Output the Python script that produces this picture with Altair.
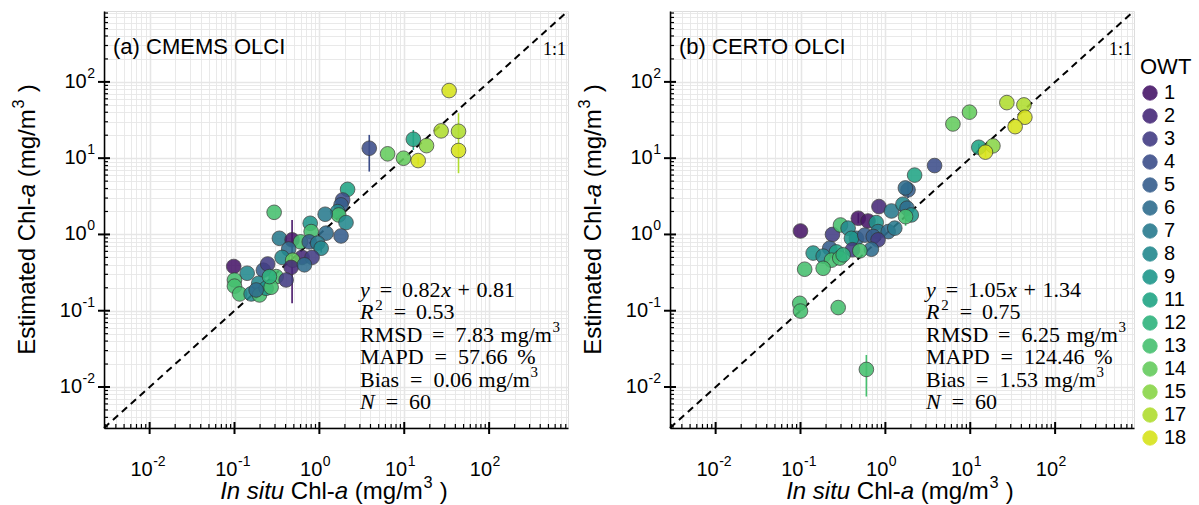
import altair as alt
import pandas as pd

SANS = "Liberation Sans"
SERIF = "Liberation Serif"

OWT_LEVELS = [1, 2, 3, 4, 5, 6, 7, 8, 9, 11, 12, 13, 14, 15, 17, 18]
AXIS_MIN, AXIS_MAX = 0.0029, 850.0
MAJOR_TICKS = [0.01, 0.1, 1, 10, 100]
MAJOR_EXP = ["-2", "-1", "0", "1", "2"]

# ---------------- panel (a) CMEMS OLCI ----------------
a_insitu = [2.15, 1.88, 1.80, 1.64, 1.69, 2.06, 1.17, 0.78, 0.80, 1.20,
            1.80, 0.293, 0.338, 0.477, 0.60, 0.76, 0.955, 1.05, 0.435, 0.364,
            0.625, 0.82, 0.485, 0.465, 0.667, 0.098, 0.141, 0.219, 0.246, 0.31,
            0.406, 0.10, 0.10, 0.115, 0.157, 0.193, 0.197, 0.236, 0.27, 0.18,
            0.258, 3.87, 6.37, 9.8, 12.8, 18.3, 14.6, 27.2, 33.8, 43.6, 43.6]
a_est = [3.9, 2.83, 2.44, 1.99, 1.80, 1.43, 1.84, 1.40, 1.09, 1.04,
         0.955, 1.95, 0.89, 0.85, 0.80, 0.80, 0.77, 0.66, 0.645, 0.50,
         0.50, 0.50, 0.46, 0.37, 0.40, 0.38, 0.31, 0.34, 0.41, 0.28,
         0.253, 0.253, 0.21, 0.166, 0.166, 0.229, 0.161, 0.197, 0.203, 0.187,
         0.28, 13.5, 11.4, 9.98, 17.7, 14.6, 9.3, 22.8, 76.9, 22.5, 12.6]
a_owt = [11, 4, 5, 8, 13, 8, 7, 9, 13, 6,
         5, 13, 7, 1, 13, 5, 7, 8, 6, 8,
         2, 3, 14, 2, 6, 1, 8, 5, 3, 13,
         3, 13, 13, 13, 8, 8, 13, 9, 13, 6,
         12, 4, 14, 14, 11, 15, 18, 17, 18, 17, 18]
a_err_x = [0.477, 3.87, 12.8, 43.6, 1.05, 14.6]
a_err_lo = [0.125, 6.67, 12.8, 6.35, 0.58, 8.2]
a_err_hi = [1.55, 20.2, 23.4, 38.9, 0.76, 10.2]
a_err_owt = [1, 4, 11, 17, 8, 18]

# ---------------- panel (b) CERTO OLCI ----------------
b_insitu = [2.21, 3.8, 1.85, 1.72, 0.84, 1.18, 1.61, 1.80, 2.02, 1.73,
            0.10, 0.238, 0.296, 0.48, 0.625, 0.78, 0.82, 1.08, 1.29, 0.364,
            0.456, 0.398, 0.571, 0.72, 0.82, 0.684, 0.41, 0.50, 0.221, 0.141,
            0.185, 0.265, 0.232, 0.29, 0.318, 0.185, 0.112, 0.098, 0.10, 0.278,
            0.597, 27.0, 42.9, 44.0, 33.8, 9.8, 6.25, 12.6, 18.5, 15.1]
b_est = [6.0, 8.0, 3.84, 4.07, 2.32, 2.03, 2.49, 2.21, 1.80, 1.71,
         1.11, 1.0, 1.33, 1.63, 1.50, 1.43, 1.09, 1.09, 1.21, 1.21,
         0.89, 0.89, 0.98, 0.94, 0.85, 0.64, 0.63, 0.61, 0.66, 0.57,
         0.52, 0.59, 0.46, 0.49, 0.54, 0.36, 0.35, 0.125, 0.099, 0.11,
         0.017, 53.5, 49.9, 34.4, 25.9, 40.1, 28.1, 13.9, 14.5, 12.0]
b_owt = [11, 4, 5, 6, 2, 7, 8, 6, 9, 13,
         1, 3, 13, 1, 1, 9, 7, 6, 7, 8,
         6, 9, 5, 5, 3, 6, 3, 13, 5, 9,
         8, 11, 13, 13, 12, 13, 13, 13, 13, 13,
         13, 17, 17, 18, 18, 14, 14, 11, 15, 18]
b_err_x = [0.597, 9.8, 1.73, 1.85, 0.48, 15.1, 12.6, 0.456]
b_err_lo = [0.0075, 33.0, 1.3, 3.0, 1.4, 10.2, 12.0, 0.80]
b_err_hi = [0.0263, 47.0, 2.2, 4.8, 1.9, 13.5, 15.5, 1.0]
b_err_owt = [13, 14, 13, 5, 1, 18, 11, 6]


# statistics text: (text, style, gap-before in em); style r=regular i=italic s=superscript
def stats_lines(slope, icpt, r2, rmsd, mapd, bias, n):
    return [
        [("y", "i", 0), ("=", "r", .45), (slope, "r", .45), ("x", "i", .03),
         ("+", "r", .3), (icpt, "r", .3)],
        [("R", "i", 0), ("2", "s", .08), ("=", "r", .5), (r2, "r", .45)],
        [("RMSD", "r", 0), ("=", "r", .5), (rmsd, "r", .5), ("mg/m", "r", .3), ("3", "s", .02)],
        [("MAPD", "r", 0), ("=", "r", .5), (mapd, "r", .5), ("%", "r", .45)],
        [("Bias", "r", 0), ("=", "r", .5), (bias, "r", .5), ("mg/m", "r", .3), ("3", "s", .02)],
        [("N", "i", 0), ("=", "r", .5), (n, "r", .5)],
    ]


a_stats = stats_lines("0.82", "0.81", "0.53", "7.83", "57.66", "0.06", "60")
b_stats = stats_lines("1.05", "1.34", "0.75", "6.25", "124.46", "1.53", "60")

W, H = 464, 417

# approximate glyph widths (em), only used to lay out mixed-style text runs
TIMES_W = {"y": 0.444, "x": 0.444, "R": 0.611, "N": 0.667, ".": 0.25, " ": 0.25,
           "=": 0.564, "+": 0.564, "%": 0.833, "M": 0.889, "A": 0.722, "P": 0.556,
           "D": 0.722, "S": 0.556, "B": 0.667, "i": 0.278, "a": 0.444, "s": 0.389,
           "m": 0.778, "g": 0.5, "/": 0.278}
ARIAL_W = {"I": .278, "n": .556, " ": .278, "s": .5, "i": .222, "t": .278, "u": .556,
           "C": .722, "h": .556, "l": .222, "-": .333, "a": .556, "(": .333, ")": .333,
           "m": .833, "g": .556, "/": .278, "E": .667, "e": .556, "d": .556}
SUP = 0.68
LBL = 20          # tick label font size
LBL_SUP = 14      # tick label exponent font size


def times_width(s, size):
    return sum(TIMES_W.get(ch, 0.5) for ch in s) * size


def arial_width(s, size):
    return sum(ARIAL_W.get(ch, 0.556) for ch in s) * size


tick_values = []
for e in range(-3, 3):
    for k in range(1, 10):
        v = round(k * 10 ** e, 6)
        if AXIS_MIN <= v <= AXIS_MAX:
            tick_values.append(v)
minor_ticks = [v for v in tick_values if v not in MAJOR_TICKS]

MAJOR_TEST = "indexof([0.01,0.1,1,10,100], datum.value) >= 0"


def make_axis():
    return alt.Axis(values=tick_values, title=None, labels=False, ticks=False,
                    grid=True, gridColor="#e6e6e6",
                    gridWidth={"condition": {"test": MAJOR_TEST, "value": 1.6}, "value": 0.9},
                    domainColor="black", domainWidth=1.5)


SCALE = alt.Scale(type="log", domain=[AXIS_MIN, AXIS_MAX], nice=False)
COLOR_SCALE = alt.Scale(domain=OWT_LEVELS, scheme="viridis")
LEGEND = alt.Legend(title="OWT", titleFont=SANS, titleFontSize=22, titleFontWeight="normal",
                    titleColor="black", labelFont=SANS, labelFontSize=20, labelColor="black",
                    symbolType="circle", symbolSize=210, symbolStrokeColor="#333333",
                    symbolStrokeWidth=0.8, symbolOpacity=0.9, rowPadding=3, titlePadding=4,
                    orient="none", legendX=1036, legendY=46)


def X(field):
    return alt.X(field, type="quantitative", scale=SCALE, axis=make_axis())


def Y(field):
    return alt.Y(field, type="quantitative", scale=SCALE, axis=make_axis())


def text_layer(txt, x, y, font, size, italic=False, angle=0, align="left", dy=0):
    return alt.Chart(pd.DataFrame({"t": [txt]})).mark_text(
        font=font, fontSize=size, fontStyle="italic" if italic else "normal",
        align=align, baseline="middle", angle=angle, color="black", dy=dy
    ).encode(text="t:N", x=alt.value(x), y=alt.value(y))


def tick_layers():
    out = []
    mn = pd.DataFrame({"v": minor_ticks})
    mj = pd.DataFrame({"v": MAJOR_TICKS, "base": ["10"] * len(MAJOR_TICKS), "exp": MAJOR_EXP})
    # minor ticks: short, inside; major ticks: cross the axis line
    out.append(alt.Chart(mn).mark_rule(color="black", strokeWidth=1.2).encode(
        x=X("v"), y=alt.value(H), y2=alt.value(H - 4)))
    out.append(alt.Chart(mj).mark_rule(color="black", strokeWidth=2).encode(
        x=X("v"), y=alt.value(H + 6), y2=alt.value(H - 6)))
    out.append(alt.Chart(mn).mark_rule(color="black", strokeWidth=1.2).encode(
        y=Y("v"), x=alt.value(0), x2=alt.value(4)))
    out.append(alt.Chart(mj).mark_rule(color="black", strokeWidth=2).encode(
        y=Y("v"), x=alt.value(-6), x2=alt.value(6)))

    # x tick labels: "10" + raised exponent, centred on the tick
    out.append(alt.Chart(mj).mark_text(font=SANS, fontSize=LBL, align="right", baseline="middle",
                                       dx=3, color="black").encode(
        x=X("v"), y=alt.value(H + 42), text="base:N"))
    out.append(alt.Chart(mj).mark_text(font=SANS, fontSize=LBL_SUP, align="left",
                                       baseline="middle", dx=3.5, dy=-8, color="black").encode(
        x=X("v"), y=alt.value(H + 42), text="exp:N"))

    # y tick labels: right-aligned to the left of the axis
    ypos = -9
    out.append(alt.Chart(mj).mark_text(font=SANS, fontSize=LBL_SUP, align="right",
                                       baseline="middle", dy=-8, color="black").encode(
        y=Y("v"), x=alt.value(ypos), text="exp:N"))
    neg = mj[mj["exp"].str.startswith("-")]
    pos = mj[~mj["exp"].str.startswith("-")]
    for sub in (neg, pos):
        w = arial_width(sub["exp"].iloc[0], LBL_SUP) + 0.5
        out.append(alt.Chart(sub).mark_text(font=SANS, fontSize=LBL, align="right",
                                            baseline="middle", color="black").encode(
            y=Y("v"), x=alt.value(ypos - w), text="base:N"))
    return out


def panel(xs, ys, owts, ex, elo, ehi, eowt, label, stats):
    pts = pd.DataFrame({"insitu": xs, "est": ys, "OWT": owts})
    err = pd.DataFrame({"insitu": ex, "lo": elo, "hi": ehi, "OWT": eowt})
    one = pd.DataFrame({"insitu": [AXIS_MIN, AXIS_MAX], "est": [AXIS_MIN, AXIS_MAX]})
    color = alt.Color("OWT:O", scale=COLOR_SCALE, legend=LEGEND)

    line = alt.Chart(one).mark_line(color="black", strokeDash=[7, 5], strokeWidth=2).encode(
        x=X("insitu"), y=Y("est"))
    rules = alt.Chart(err).mark_rule(strokeWidth=1.6).encode(
        x=X("insitu"), y=Y("lo"), y2="hi", color=color)
    circles = alt.Chart(pts).mark_circle(size=215, opacity=0.88, stroke="#333333",
                                         strokeWidth=0.8).encode(
        x=X("insitu"), y=Y("est"), color=color)

    layers = [line] + tick_layers() + [rules, circles]
    layers.append(text_layer(label, 9, 36, SANS, 22))
    layers.append(text_layer("1:1", 462, 39, SERIF, 18, align="right"))

    # statistics block
    x0, y0, dy, fs = 256, 279, 22.4, 22
    for i, toks in enumerate(stats):
        cx = x0
        for s, st, gap in toks:
            cx += gap * fs
            if st == "s":
                layers.append(text_layer(s, cx, y0 + i * dy, SERIF, fs * SUP, dy=-0.3 * fs))
                cx += times_width(s, fs * SUP)
            else:
                layers.append(text_layer(s, cx, y0 + i * dy, SERIF, fs, italic=(st == "i")))
                cx += times_width(s, fs)

    # x-axis title: "In situ Chl-a (mg/m³ )"
    ts = 24
    xsegs = [("In situ", "i", 0), ("Chl-", "r", 0.278), ("a", "i", 0),
             ("(mg/m", "r", 0.278), ("3", "s", 0.03), (")", "r", 0.3)]

    def seg_w(s, st):
        return arial_width(s, ts * SUP) if st == "s" else arial_width(s, ts)

    total = sum(seg_w(s, st) + g * ts for s, st, g in xsegs)
    cx = W / 2 - 2 - total / 2
    for s, st, g in xsegs:
        cx += g * ts
        if st == "s":
            layers.append(text_layer(s, cx, H + 64, SANS, ts * SUP, dy=-0.36 * ts))
        else:
            layers.append(text_layer(s, cx, H + 64, SANS, ts, italic=(st == "i")))
        cx += seg_w(s, st)

    # y-axis title: "Estimated Chl-a (mg/m³ )", rotated
    ysegs = [("Estimated Chl-", "r", 0), ("a", "i", 0), ("(mg/m", "r", 0.278),
             ("3", "s", 0.03), (")", "r", 0.3)]
    total = sum(seg_w(s, st) + g * ts for s, st, g in ysegs)
    cy = H / 2 + total / 2
    for s, st, g in ysegs:
        cy -= g * ts
        if st == "s":
            layers.append(text_layer(s, -76, cy, SANS, ts * SUP, angle=270, dy=-0.36 * ts))
        else:
            layers.append(text_layer(s, -76, cy, SANS, ts, italic=(st == "i"), angle=270))
        cy -= seg_w(s, st)

    return alt.layer(*layers).properties(width=W, height=H)


left = panel(a_insitu, a_est, a_owt, a_err_x, a_err_lo, a_err_hi, a_err_owt,
             "(a) CMEMS OLCI", a_stats)
right = panel(b_insitu, b_est, b_owt, b_err_x, b_err_lo, b_err_hi, b_err_owt,
              "(b) CERTO OLCI", b_stats)

chart = alt.hconcat(left, right, spacing=3).resolve_scale(color="shared").resolve_legend(
    color="shared").properties(
    padding={"left": 10, "top": 6, "right": 5, "bottom": 0}
).configure_view(stroke="#333333", strokeWidth=1.3).configure(background="white")

chart.save("out.html", embed_options={"renderer": "svg", "actions": False})
